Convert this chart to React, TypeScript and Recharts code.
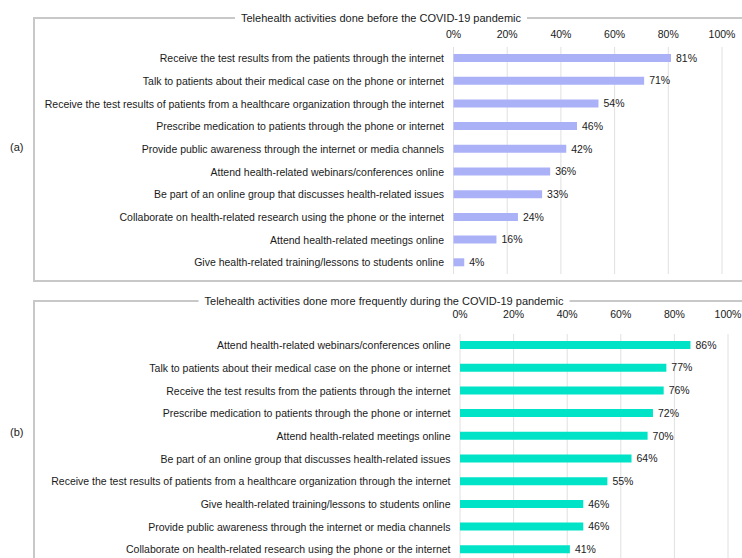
import React from 'react';
import { BarChart, Bar, XAxis, YAxis, CartesianGrid, LabelList } from 'recharts';

// Panel (a): before the pandemic
const beforeActivities = [
  'Receive the test results from the patients through the internet',
  'Talk to patients about their medical case on the phone or internet',
  'Receive the test results of patients from a healthcare organization through the internet',
  'Prescribe medication to patients through the phone or internet',
  'Provide public awareness through the internet or media channels',
  'Attend health-related webinars/conferences online',
  'Be part of an online group that discusses health-related issues',
  'Collaborate on health-related research using the phone or the internet',
  'Attend health-related meetings online',
  'Give health-related training/lessons to students online',
];
const beforeValues = [81, 71, 54, 46, 42, 36, 33, 24, 16, 4];

// Panel (b): more frequently during the pandemic
const duringActivities = [
  'Attend health-related webinars/conferences online',
  'Talk to patients about their medical case on the phone or internet',
  'Receive the test results from the patients through the internet',
  'Prescribe medication to patients through the phone or internet',
  'Attend health-related meetings online',
  'Be part of an online group that discusses health-related issues',
  'Receive the test results of patients from a healthcare organization through the internet',
  'Give health-related training/lessons to students online',
  'Provide public awareness through the internet or media channels',
  'Collaborate on health-related research using the phone or the internet',
];
const duringValues = [86, 77, 76, 72, 70, 64, 55, 46, 46, 41];

const percentTicks = [0, 20, 40, 60, 80, 100];

const FONT = '"Liberation Sans", Arial, Helvetica, sans-serif';
const TEXT = '#1a1a1a';
const BORDER = '#c8c8c8';
const X_AXIS_HEIGHT = 30;

// plain single-line tick so long activity names never wrap
const CategoryTick = (props: any) => {
  const { x, y, payload } = props;
  return (
    <text x={x} y={y} dy={3.8} textAnchor="end" fontSize={10.5} fill={TEXT}>
      {payload.value}
    </text>
  );
};

interface PanelProps {
  tag: string;
  title: string;
  titleCenter: number;
  boxTop: number;
  boxHeight: number;
  tagY: number;
  chartTop: number;
  chartHeight: number;
  plotTop: number;
  plotBottom: number;
  axisWidth: number;
  rightMargin: number;
  xTickMargin: number;
  color: string;
  activities: string[];
  values: number[];
}

const Panel: React.FC<PanelProps> = (p) => {
  const data = p.activities.map((activity, i) => ({ activity, value: p.values[i] }));
  return (
    <>
      <div
        style={{
          position: 'absolute',
          left: 33,
          top: p.boxTop,
          width: 760,
          height: p.boxHeight,
          border: `2px solid ${BORDER}`,
          boxSizing: 'border-box',
        }}
      />
      <div
        style={{
          position: 'absolute',
          left: p.titleCenter,
          top: p.boxTop - 6,
          transform: 'translateX(-50%)',
          background: '#fff',
          padding: '0 6px',
          fontSize: 11,
          lineHeight: '14px',
          color: TEXT,
          whiteSpace: 'nowrap',
        }}
      >
        {p.title}
      </div>
      <div
        style={{
          position: 'absolute',
          left: 10,
          top: p.tagY - 7,
          fontSize: 11,
          lineHeight: '14px',
          color: TEXT,
        }}
      >
        {p.tag}
      </div>
      <div style={{ position: 'absolute', left: 0, top: p.chartTop }}>
        <BarChart
          layout="vertical"
          width={742}
          height={p.chartHeight}
          data={data}
          margin={{
            top: p.plotTop - X_AXIS_HEIGHT,
            right: p.rightMargin,
            bottom: p.chartHeight - p.plotBottom,
            left: 0,
          }}
        >
          <CartesianGrid horizontal={false} stroke="#e0e0e0" />
          <XAxis
            type="number"
            orientation="top"
            height={X_AXIS_HEIGHT}
            domain={[0, 100]}
            ticks={percentTicks}
            interval={0}
            tickFormatter={(v) => `${v}%`}
            axisLine={false}
            tickLine={false}
            tickSize={0}
            tickMargin={p.xTickMargin}
            tick={{ fontSize: 10.5, fill: TEXT }}
          />
          <YAxis
            type="category"
            dataKey="activity"
            width={p.axisWidth}
            interval={0}
            axisLine={false}
            tickLine={false}
            tickSize={0}
            tickMargin={9.5}
            tick={<CategoryTick />}
          />
          <Bar dataKey="value" fill={p.color} barSize={8} isAnimationActive={false}>
            <LabelList
              dataKey="value"
              position="right"
              offset={5}
              formatter={(v: any) => `${v}%`}
              style={{ fontSize: 10.5, fill: TEXT }}
            />
          </Bar>
        </BarChart>
      </div>
    </>
  );
};

export default function App() {
  return (
    <div
      style={{
        position: 'absolute',
        left: 0,
        top: 0,
        width: 742,
        height: 558,
        overflow: 'hidden',
        background: '#fff',
        fontFamily: FONT,
      }}
    >
      <Panel
        tag="(a)"
        title="Telehealth activities done before the COVID-19 pandemic"
        titleCenter={381}
        boxTop={17}
        boxHeight={265}
        tagY={147}
        chartTop={0}
        chartHeight={290}
        plotTop={47}
        plotBottom={274}
        axisWidth={453.5}
        rightMargin={20}
        xTickMargin={9.5}
        color="#abb1f7"
        activities={beforeActivities}
        values={beforeValues}
      />
      <Panel
        tag="(b)"
        title="Telehealth activities done more frequently during the COVID-19 pandemic"
        titleCenter={384}
        boxTop={300}
        boxHeight={300}
        tagY={432}
        chartTop={300}
        chartHeight={270}
        plotTop={34}
        plotBottom={261}
        axisWidth={460}
        rightMargin={14}
        xTickMargin={16.5}
        color="#00e3c6"
        activities={duringActivities}
        values={duringValues}
      />
    </div>
  );
}
